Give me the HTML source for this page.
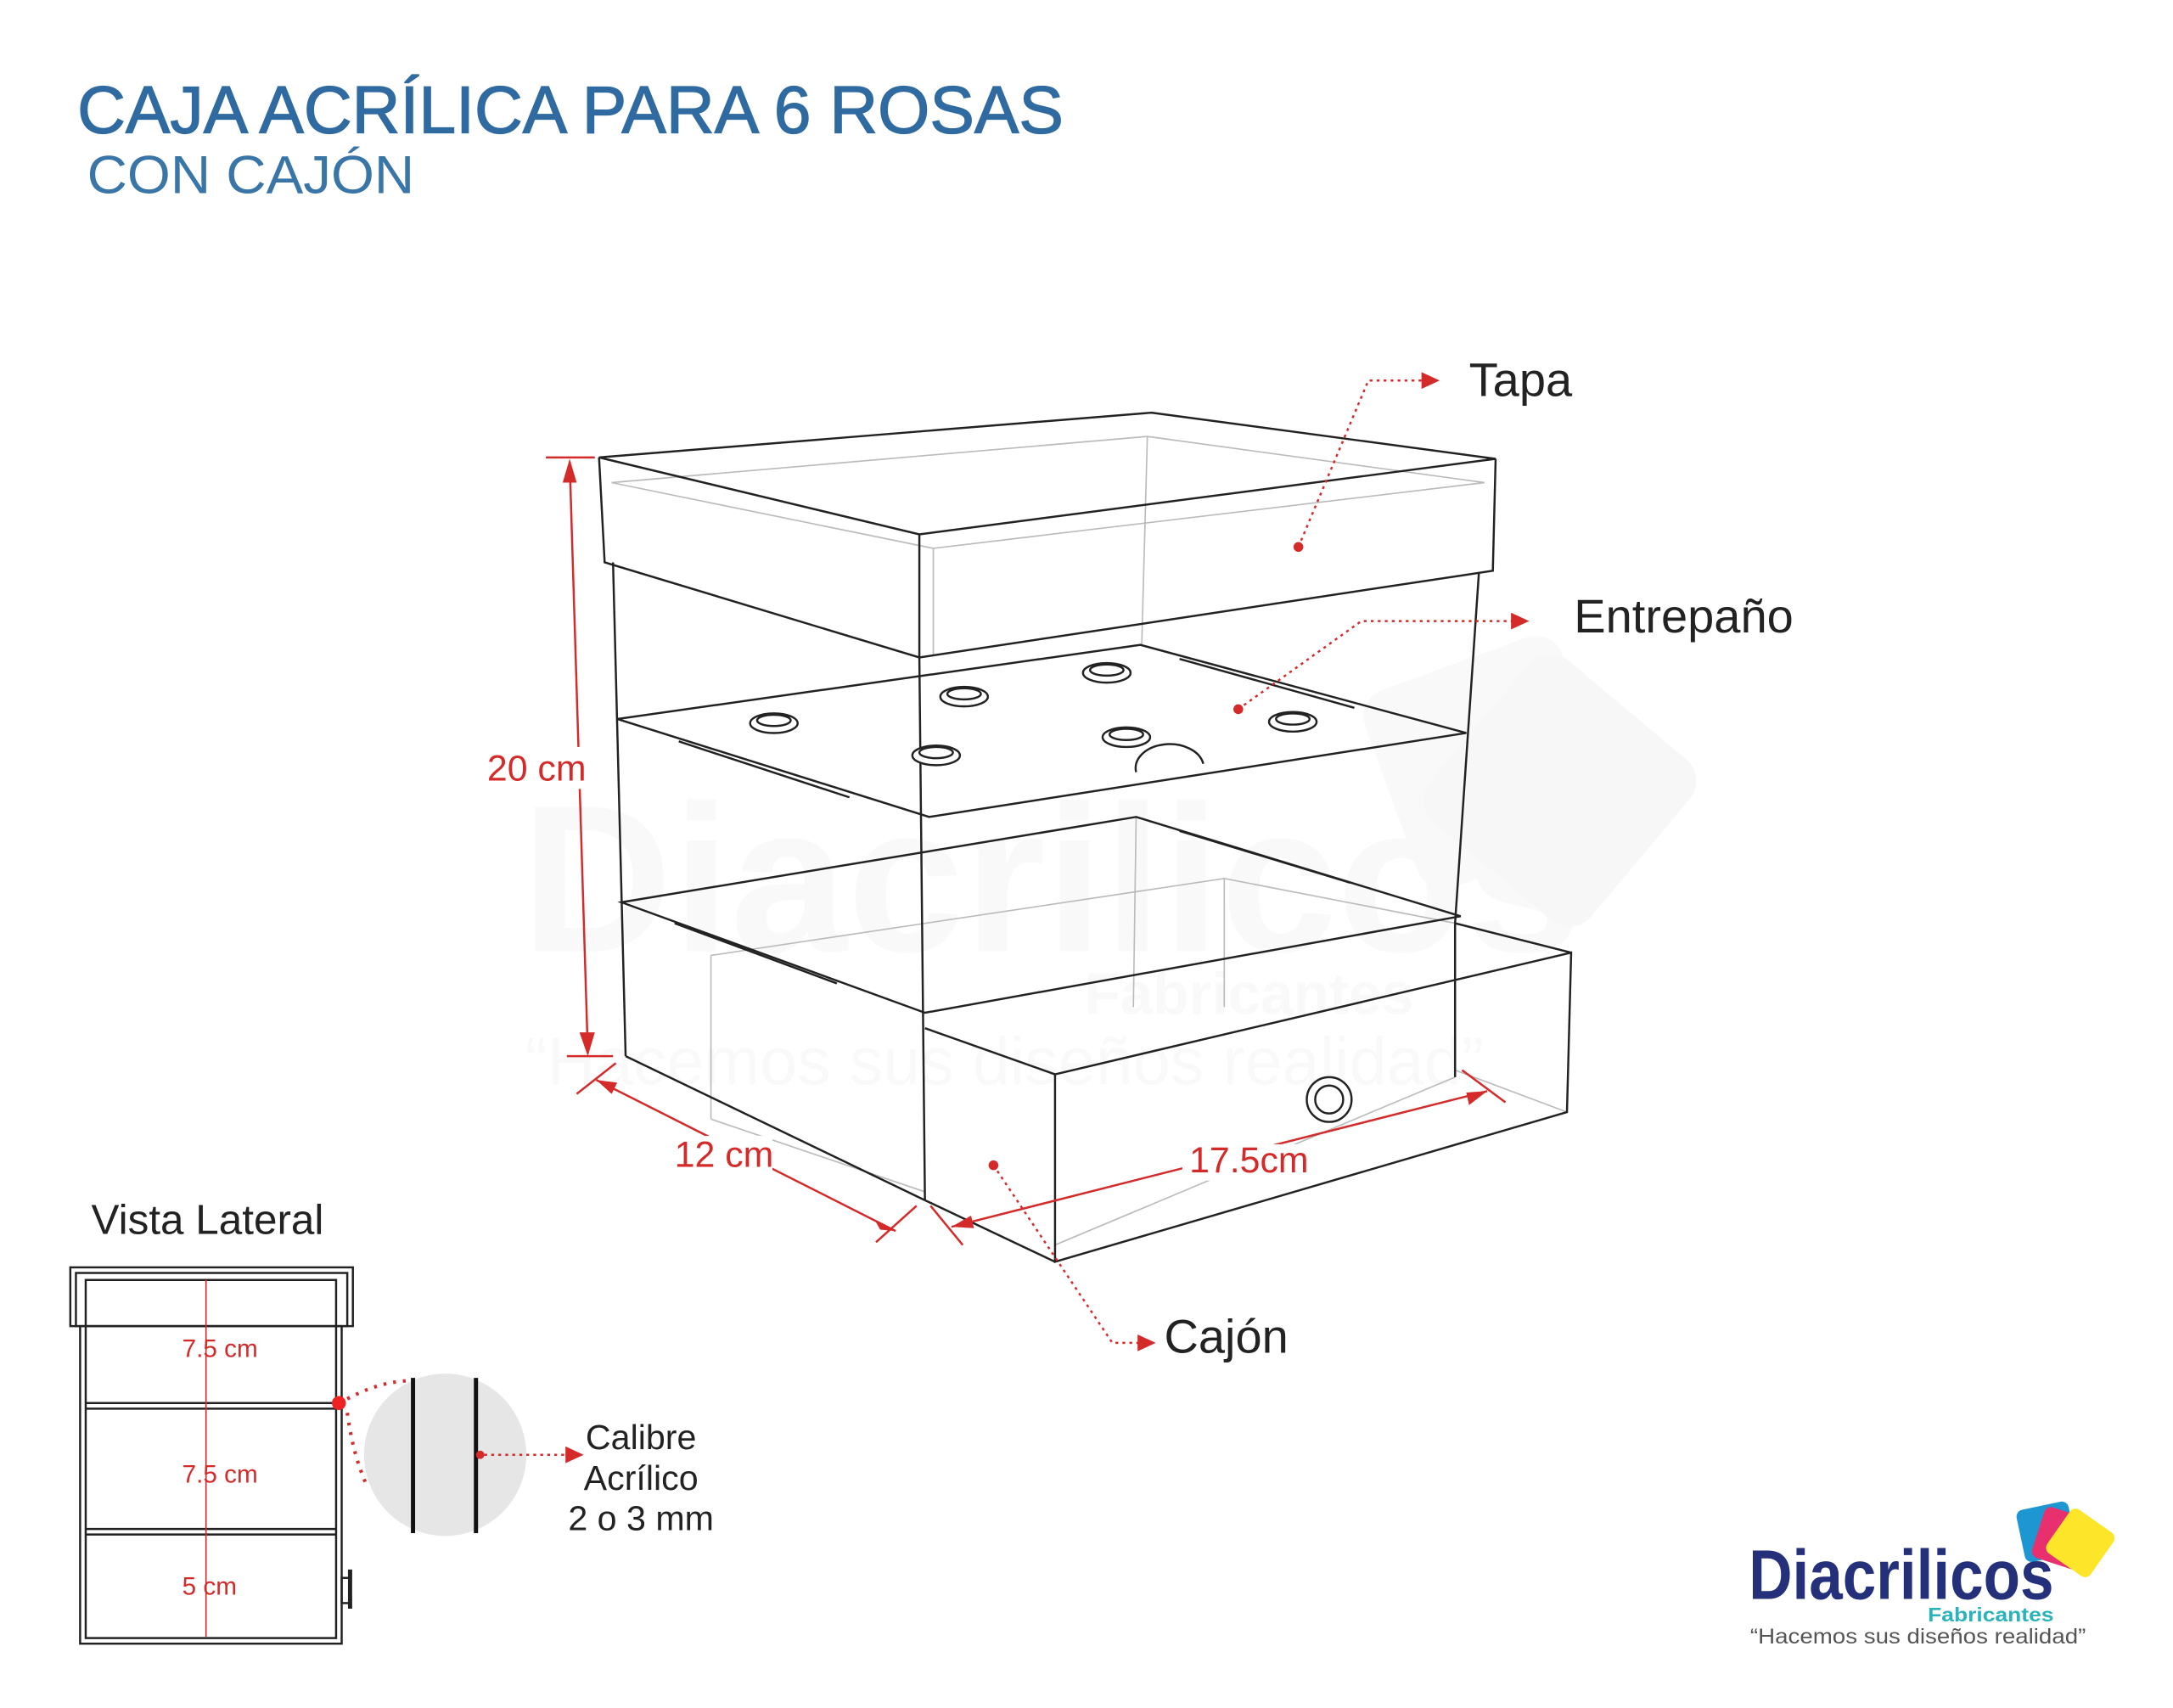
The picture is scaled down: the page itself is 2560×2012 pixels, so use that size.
<!DOCTYPE html>
<html><head><meta charset="utf-8"><style>
html,body{margin:0;padding:0;background:#fff;}
svg{display:block;}
text{font-family:"Liberation Sans",sans-serif;}
</style></head><body>
<svg width="2560" height="2012" viewBox="0 0 1553 1221" xmlns="http://www.w3.org/2000/svg">
<rect width="1553" height="1221" fill="#fff"/>
<!-- watermark -->
<g opacity="0.35">
<text x="372" y="680" font-size="150" font-weight="bold" fill="#eeeeee">Diacrilicos</text>
<text x="775" y="725" font-size="42" font-weight="bold" fill="#eeeeee">Fabricantes</text>
<text x="375" y="775" font-size="48" fill="#eeeeee">“Hacemos sus diseños realidad”</text>
<rect x="990" y="470" width="150" height="150" rx="20" fill="#eeeeee" transform="rotate(-20 1065 545)"/>
<rect x="1040" y="490" width="150" height="150" rx="20" fill="#e8e8e8" transform="rotate(40 1115 565)"/>
</g>
<!-- title -->
<text x="55" y="95" font-size="48" fill="#2f6aa0" textLength="705" lengthAdjust="spacingAndGlyphs" stroke="#2f6aa0" stroke-width="0.8">CAJA ACRÍLICA PARA 6 ROSAS</text>
<text x="62" y="138" font-size="38" fill="#3a75a8" textLength="234" lengthAdjust="spacingAndGlyphs">CON CAJÓN</text>

<g fill="none" stroke="#bbb" stroke-width="1">
<polyline points="437,345 820,312 1061,345"/>
<polyline points="437,345 667,392 1061,345"/>
<line x1="667" y1="392" x2="667" y2="468"/>
<line x1="820" y1="312" x2="816" y2="461"/>
<line x1="812" y1="584" x2="810" y2="720"/>
<polyline points="508,683 875,628 1040,660"/>
<line x1="875" y1="628" x2="875" y2="720"/>
<line x1="508" y1="683" x2="508" y2="800"/>
<line x1="508" y1="800" x2="661" y2="852"/>
<line x1="1040" y1="765" x2="1120" y2="795"/>
<line x1="754" y1="890" x2="1040" y2="770"/>
</g>
<g fill="none" stroke="#222" stroke-width="1.5">
<!-- lid -->
<polygon points="428,327 823,295 1069,328 657,382"/>
<polyline points="428,327 432,402 657,470 1067,408 1069,328"/>
<line x1="657" y1="382" x2="657" y2="470"/>
<!-- body -->
<line x1="438" y1="402" x2="447" y2="755"/>
<line x1="657" y1="470" x2="661" y2="858"/>
<line x1="1057" y1="410" x2="1040" y2="660"/>
<!-- shelf -->
<polygon points="441,514 815,461 1048,524 664,584"/>
<line x1="485" y1="530" x2="607" y2="570"/>
<line x1="843" y1="471" x2="968" y2="506"/>
<!-- second shelf -->
<polygon points="444,645 812,584 1044,655 661,724"/>
<line x1="482" y1="660" x2="598" y2="703"/>
<line x1="843" y1="594" x2="965" y2="631"/>
<!-- bottom -->
<line x1="447" y1="755" x2="661" y2="858"/>
<!-- drawer -->
<polygon points="754,768 1123,681 1120,795 754,902"/>
<line x1="661" y1="735" x2="754" y2="768"/>
<line x1="1040" y1="660" x2="1123" y2="681"/>
<line x1="661" y1="858" x2="754" y2="902"/>
<line x1="1040" y1="660" x2="1040" y2="770"/>
<circle cx="950" cy="786" r="16"/><circle cx="950" cy="786" r="10"/>
</g>
<path d="M812,552 a20,14 0 0 1 48,-6" fill="#fff" stroke="#222" stroke-width="1.5"/>
<g fill="#fff" stroke="#222" stroke-width="1.5">
<ellipse cx="553" cy="517" rx="17" ry="7"/><ellipse cx="553" cy="515" rx="12" ry="4"/>
<ellipse cx="689" cy="498" rx="17" ry="7"/><ellipse cx="689" cy="496" rx="12" ry="4"/>
<ellipse cx="791" cy="481" rx="17" ry="7"/><ellipse cx="791" cy="479" rx="12" ry="4"/>
<ellipse cx="669" cy="540" rx="17" ry="7"/><ellipse cx="669" cy="538" rx="12" ry="4"/>
<ellipse cx="805" cy="527" rx="17" ry="7"/><ellipse cx="805" cy="525" rx="12" ry="4"/>
<ellipse cx="924" cy="516" rx="17" ry="7"/><ellipse cx="924" cy="514" rx="12" ry="4"/>
</g>
<!-- dimensions -->
<g stroke="#d42a2a" stroke-width="1.5" fill="none">
<line x1="407" y1="330" x2="420" y2="753"/>
<line x1="390" y1="327" x2="425" y2="327"/>
<line x1="405" y1="755" x2="438" y2="755"/>
<line x1="426" y1="772" x2="640" y2="880"/>
<line x1="412" y1="782" x2="440" y2="760"/>
<line x1="626" y1="888" x2="655" y2="862"/>
<line x1="680" y1="877" x2="1063" y2="780"/>
<line x1="665" y1="862" x2="688" y2="890"/>
<line x1="1045" y1="765" x2="1076" y2="788"/>
</g>
<g fill="#d42a2a">
<polygon points="407,328 402,345 412,345"/>
<polygon points="420,755 414,738 425,738"/>
<polygon points="426,772 441,774 437,782"/>
<polygon points="640,880 625,872 629,879"/>
<polygon points="680,877 694,869 696,878"/>
<polygon points="1063,780 1048,781 1050,790"/>
</g>
<rect x="470" y="812" width="82" height="28" fill="#fff"/>
<rect x="845" y="818" width="92" height="26" fill="#fff"/>
<rect x="346" y="534" width="90" height="30" fill="#fff"/>
<g fill="#d42a2a" font-size="26">
<text x="348" y="558">20 cm</text>
<text x="482" y="834">12 cm</text>
<text x="850" y="838">17.5cm</text>
</g>
<!-- leaders -->
<g stroke="#d42a2a" stroke-width="1.5" fill="none" stroke-dasharray="2,3">
<polyline points="928,391 978,272 1018,272"/>
<polyline points="885,507 973,444 1082,444"/>
<polyline points="710,833 795,960 820,960"/>
</g>
<g fill="#d42a2a">
<circle cx="928" cy="391" r="3.5"/><circle cx="885" cy="507" r="3.5"/><circle cx="710" cy="833" r="3.5"/>
<polygon points="1029,272 1016,266 1016,278"/>
<polygon points="1093,444 1080,438 1080,450"/>
<polygon points="826,960 813,954 813,966"/>
</g>
<g fill="#222" font-size="34">
<text x="1050" y="283">Tapa</text>
<text x="1125" y="452">Entrepaño</text>
<text x="832" y="967">Cajón</text>
</g>
<!-- side view -->
<text x="65" y="882" font-size="30" fill="#222">Vista Lateral</text>
<g fill="none" stroke="#222" stroke-width="1.5">
<rect x="50" y="906" width="202" height="42"/>
<rect x="54" y="910" width="194" height="38"/>
<rect x="57" y="948" width="187" height="227"/>
<rect x="61" y="915" width="179" height="256"/>
<line x1="61" y1="1003" x2="240" y2="1003"/><line x1="61" y1="1007" x2="240" y2="1007"/>
<line x1="61" y1="1093" x2="240" y2="1093"/><line x1="61" y1="1097" x2="240" y2="1097"/>
<rect x="244" y="1128" width="6" height="18"/>
<line x1="250" y1="1122" x2="250" y2="1150" stroke-width="3"/>
</g>
<line x1="147" y1="915" x2="147" y2="1170" stroke="#d42a2a" stroke-width="1"/>
<g fill="#d42a2a" font-size="18">
<text x="130" y="970">7.5 cm</text>
<text x="130" y="1060">7.5 cm</text>
<text x="130" y="1140">5 cm</text>
</g>
<circle cx="318" cy="1040" r="58" fill="#e6e6e6"/>
<line x1="295" y1="985" x2="295" y2="1096" stroke="#111" stroke-width="3"/>
<line x1="340" y1="985" x2="340" y2="1096" stroke="#111" stroke-width="3"/>
<circle cx="242" cy="1003" r="5" fill="#e22"/>
<path d="M248,1000 Q270,988 292,987 M248,1010 Q252,1040 262,1062" stroke="#d42a2a" stroke-width="2.5" fill="none" stroke-dasharray="2,5"/>
<circle cx="343" cy="1040" r="3" fill="#d42a2a"/>
<line x1="346" y1="1040" x2="405" y2="1040" stroke="#d42a2a" stroke-width="1.5" stroke-dasharray="2,3"/>
<polygon points="417,1040 404,1034 404,1046" fill="#d42a2a"/>
<g fill="#222" font-size="25" text-anchor="middle">
<text x="458" y="1036">Calibre</text>
<text x="458" y="1065">Acrílico</text>
<text x="458" y="1094">2 o 3 mm</text>
</g>
<!-- logo -->
<rect x="1444" y="1076" width="38" height="38" rx="5" fill="#1e96d2" transform="rotate(-12 1463 1095)"/>
<rect x="1456" y="1081" width="38" height="38" rx="5" fill="#e8306e" transform="rotate(18 1475 1100)"/>
<rect x="1468" y="1084" width="38" height="38" rx="5" fill="#fde52a" transform="rotate(35 1487 1103)"/>
<text x="1250" y="1143" font-size="50" font-weight="bold" fill="#24317a" textLength="218" lengthAdjust="spacingAndGlyphs">Diacrilicos</text>
<text x="1378" y="1159" font-size="14" font-weight="bold" fill="#2ab3bd" textLength="90" lengthAdjust="spacingAndGlyphs">Fabricantes</text>
<text x="1251" y="1175" font-size="15" fill="#555" textLength="240" lengthAdjust="spacingAndGlyphs">“Hacemos sus diseños realidad”</text>
</svg>
</body></html>
